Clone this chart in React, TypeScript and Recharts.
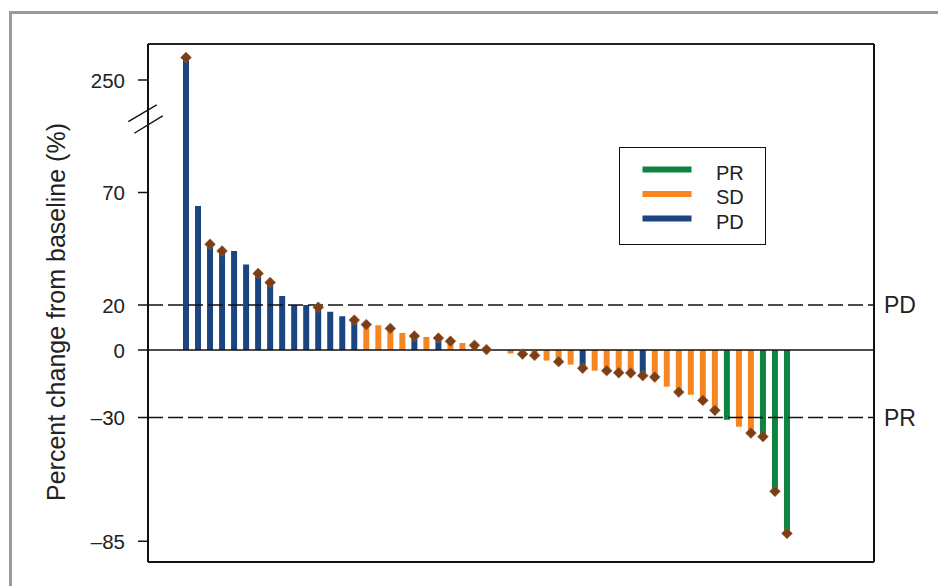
import React from 'react';
import { ComposedChart, Bar, Cell, Line, XAxis, YAxis, ReferenceLine, Legend } from 'recharts';

// Percent change from baseline per patient (sorted waterfall)
const CHANGE = [
  270, 64, 47, 44, 44, 38, 34, 30, 24, 20, 20, 19, 17, 15, 13.3,
  11.3, 11, 9.6, 7.6, 6.2, 5.8, 5.3, 3.9, 3.1, 2.1, 0.2, 0, -1.5, -1.8, -2.4,
  -4.7, -5.2, -6.5, -8.1, -9.2, -9.2, -10.1, -10.2, -11.4, -12, -16.3, -18.7, -19.9, -22.4, -26.8,
  -31, -34.1, -36.9, -38.5, -62.8, -81.5,
];
// Best response category per patient
const RESPONSE = [
  'PD', 'PD', 'PD', 'PD', 'PD', 'PD', 'PD', 'PD', 'PD', 'PD', 'PD', 'PD', 'PD', 'PD', 'PD',
  'SD', 'SD', 'SD', 'SD', 'PD', 'SD', 'PD', 'SD', 'SD', 'SD', 'SD', 'SD', 'SD', 'SD', 'SD',
  'SD', 'SD', 'SD', 'PD', 'SD', 'SD', 'SD', 'SD', 'PD', 'SD', 'SD', 'SD', 'SD', 'SD', 'SD',
  'PR', 'SD', 'SD', 'PR', 'PR', 'PR',
];
// 1 = diamond marker shown on the bar end
const MARKED = [
  1, 0, 1, 1, 0, 0, 1, 1, 0, 0, 0, 1, 0, 0, 1,
  1, 0, 1, 0, 1, 0, 1, 1, 0, 1, 1, 0, 0, 1, 1,
  0, 1, 0, 1, 0, 1, 1, 1, 1, 1, 0, 1, 0, 1, 1,
  0, 0, 1, 1, 1, 1,
];
const Y_TICKS = [-85, -30, 0, 20, 70, 250];
const LEGEND_ITEMS = ['PR', 'SD', 'PD'];
const THRESHOLDS = [
  { value: 20, label: 'PD' },
  { value: -30, label: 'PR' },
];

const COLORS: Record<string, string> = { PR: '#0f8342', SD: '#f68621', PD: '#1a4580' };
const DIAMOND = '#7b3f17';
const FONT = '"Liberation Sans", Arial, Helvetica, sans-serif';
const TEXT = '#222';

// broken axis: values above 70 are compressed so that 250 sits at axis unit 120
const toAxis = (v: number) => (v > 70 ? 120 + (v - 250) * 0.5 : v);
const BREAK_AXIS = 102.7;
const TICK_SIZE = 10;
const TICK_MARGIN = 13;

const data = CHANGE.map((v, i) => ({
  idx: i + 1,
  plot: toAxis(v),
  marker: MARKED[i] ? toAxis(v) : null,
  resp: RESPONSE[i],
}));

const tickValues = [...Y_TICKS.map(toAxis), BREAK_AXIS];

const fmt = (v: number) => (v < 0 ? '\u2013' + Math.abs(v) : String(v));

function YTick(props: any) {
  const { x, y, payload } = props;
  const ax = x + TICK_SIZE + TICK_MARGIN;
  if (payload.value === BREAK_AXIS) {
    return (
      <g>
        <line x1={ax - 19.7} y1={y + 2.7} x2={ax + 8.7} y2={y - 14} stroke="#111" strokeWidth={1.4} />
        <line x1={ax - 13.7} y1={y + 14.3} x2={ax + 14.7} y2={y - 3} stroke="#111" strokeWidth={1.4} />
      </g>
    );
  }
  const i = Y_TICKS.findIndex((t) => toAxis(t) === payload.value);
  const label = i >= 0 ? fmt(Y_TICKS[i]) : '';
  return (
    <g>
      <line x1={ax - TICK_SIZE} y1={y} x2={ax} y2={y} stroke="#111" strokeWidth={1.5} />
      <text x={x} y={y} textAnchor="end" dominantBaseline="central" fontSize={20.5} fill={TEXT} fontFamily={FONT}>
        {label}
      </text>
    </g>
  );
}

function DiamondDot(props: any) {
  const { cx, cy, index, value } = props;
  if (value == null || cy == null || cx == null) return <g key={'d' + index} />;
  const r = 5.4;
  return (
    <polygon
      key={'d' + index}
      points={`${cx},${cy - r} ${cx + r},${cy} ${cx},${cy + r} ${cx - r},${cy}`}
      fill={DIAMOND}
      stroke="#a0623a"
      strokeWidth={0.6}
    />
  );
}

function LegendBox() {
  return (
    <div
      style={{
        width: 147,
        height: 98,
        border: '1.5px solid #111',
        boxSizing: 'border-box',
        background: '#fff',
        position: 'relative',
      }}
    >
      <svg width={144} height={95} style={{ position: 'absolute', left: 0, top: 0 }}>
        {LEGEND_ITEMS.map((k, i) => {
          const yy = 21.5 + i * 24.5;
          return (
            <g key={k}>
              <line x1={22.5} x2={71.5} y1={yy} y2={yy} stroke={COLORS[k]} strokeWidth={6} />
              <text x={96} y={yy + 3} dominantBaseline="central" fontSize={20} fill={TEXT} fontFamily={FONT}>
                {k}
              </text>
            </g>
          );
        })}
      </svg>
    </div>
  );
}

function YLabel(props: any) {
  const vb = props.viewBox || { x: 0, y: 0, width: 148, height: 518 };
  const x = vb.x + 65;
  const y = vb.y + vb.height / 2 + 9;
  return (
    <text
      x={x}
      y={y}
      transform={`rotate(-90, ${x}, ${y})`}
      textAnchor="middle"
      fontSize={25}
      fill={TEXT}
      fontFamily={FONT}
    >
      Percent change from baseline (%)
    </text>
  );
}

export default function App() {
  return (
    <div
      style={{
        position: 'absolute',
        left: 0,
        top: 0,
        width: 938,
        height: 586,
        overflow: 'hidden',
        background: '#fff',
        fontFamily: FONT,
      }}
    >
      <div
        style={{
          position: 'absolute',
          left: 9,
          top: 11,
          width: 1000,
          height: 700,
          borderTop: '3px solid #9a9a9a',
          borderLeft: '3px solid #9a9a9a',
        }}
      />
      <div style={{ position: 'absolute', left: 0, top: 0 }}>
        <ComposedChart
          width={938}
          height={586}
          data={data}
          margin={{ top: 43, right: 63, bottom: 23, left: 0 }}
          barCategoryGap={0}
        >
          <XAxis
            dataKey="idx"
            type="category"
            padding={{ left: 32, right: 81 }}
            tick={false}
            tickLine={false}
            height={1}
            axisLine={{ stroke: '#111', strokeWidth: 2 }}
          />
          <XAxis
            xAxisId="top"
            dataKey="idx"
            type="category"
            orientation="top"
            tick={false}
            tickLine={false}
            height={1}
            axisLine={{ stroke: '#222', strokeWidth: 2 }}
          />
          <YAxis
            type="number"
            width={148}
            domain={[-94.22, 136]}
            allowDataOverflow
            ticks={tickValues}
            interval={0}
            tick={<YTick />}
            tickLine={false}
            tickSize={TICK_SIZE}
            tickMargin={TICK_MARGIN}
            axisLine={{ stroke: '#111', strokeWidth: 2 }}
            label={<YLabel />}
          />
          <YAxis
            yAxisId="right"
            orientation="right"
            width={1}
            domain={[0, 1]}
            tick={false}
            tickLine={false}
            axisLine={{ stroke: '#111', strokeWidth: 2 }}
          />
          {THRESHOLDS.map((t) => (
            <ReferenceLine
              key={t.label}
              y={t.value}
              stroke="#111"
              strokeWidth={1.4}
              strokeDasharray="15 5"
              label={{ value: t.label, position: 'right', offset: 10, fontSize: 23, fill: TEXT, fontFamily: FONT }}
            />
          ))}
          <ReferenceLine y={0} stroke="#111" strokeWidth={1.5} />
          <Bar dataKey="plot" barSize={6} isAnimationActive={false} legendType="none">
            {data.map((d) => (
              <Cell key={d.idx} fill={COLORS[d.resp]} />
            ))}
          </Bar>
          <Line
            dataKey="marker"
            stroke="none"
            dot={DiamondDot}
            activeDot={false}
            isAnimationActive={false}
            legendType="none"
            connectNulls={false}
          />
          <Legend
            layout="vertical"
            align="center"
            verticalAlign="middle"
            content={() => <LegendBox />}
            wrapperStyle={{ left: 619, top: 147, width: 147, height: 98 }}
          />
        </ComposedChart>
      </div>
    </div>
  );
}
